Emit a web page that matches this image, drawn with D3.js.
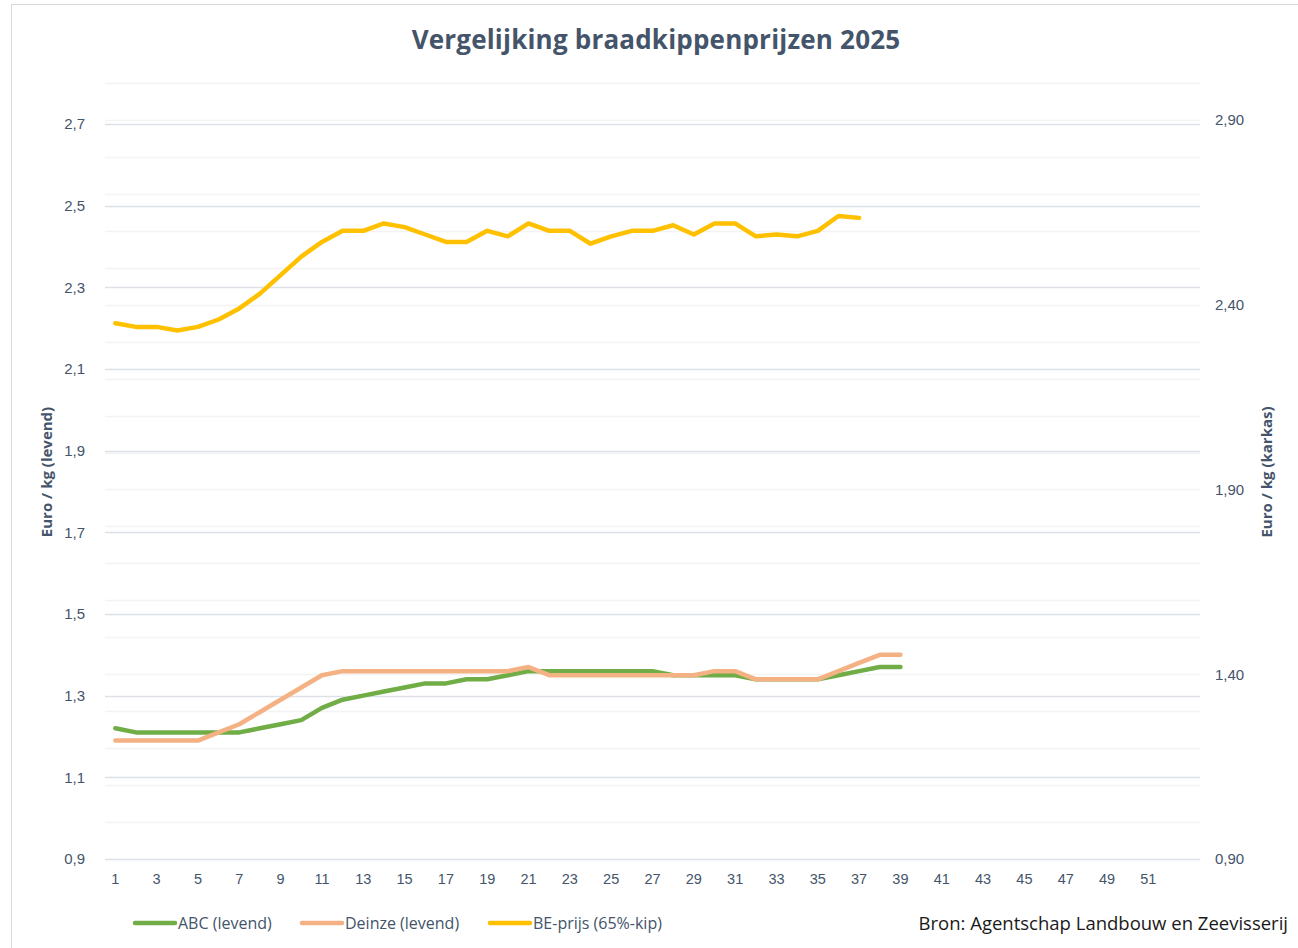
<!DOCTYPE html>
<html>
<head>
<meta charset="utf-8">
<script src="https://cdn.jsdelivr.net/npm/d3@7"></script>
<style>
    body { margin: 0; background: #fff; }
    svg { display: block; font-family: "Open Sans", sans-serif; }
    .tick text { fill: #44546A; font-size: 15px; }
</style>
</head>
<body>
<script>
(function(){

    //week numbers on the category axis (slot 53 stays empty)
    var weeks = d3.range(1, 54);
    var tickWeeks = d3.range(1, 52, 2);

    //live weight prices, left axis (euro / kg levend)
    var abcLevend = [1.22, 1.21, 1.21, 1.21, 1.21, 1.21, 1.21, 1.22, 1.23, 1.24,
        1.27, 1.29, 1.30, 1.31, 1.32, 1.33, 1.33, 1.34, 1.34, 1.35,
        1.36, 1.36, 1.36, 1.36, 1.36, 1.36, 1.36, 1.35, 1.35, 1.35,
        1.35, 1.34, 1.34, 1.34, 1.34, 1.35, 1.36, 1.37, 1.37];
    var deinzeLevend = [1.19, 1.19, 1.19, 1.19, 1.19, 1.21, 1.23, 1.26, 1.29, 1.32,
        1.35, 1.36, 1.36, 1.36, 1.36, 1.36, 1.36, 1.36, 1.36, 1.36,
        1.37, 1.35, 1.35, 1.35, 1.35, 1.35, 1.35, 1.35, 1.35, 1.36,
        1.36, 1.34, 1.34, 1.34, 1.34, 1.36, 1.38, 1.40, 1.40];

    //carcass price, right axis (euro / kg karkas)
    var bePrijs = [2.35, 2.34, 2.34, 2.33, 2.34, 2.36, 2.39, 2.43, 2.48, 2.53,
        2.57, 2.60, 2.60, 2.62, 2.61, 2.59, 2.57, 2.57, 2.60, 2.585,
        2.62, 2.60, 2.60, 2.565, 2.585, 2.60, 2.60, 2.615, 2.59, 2.62,
        2.62, 2.585, 2.59, 2.585, 2.60, 2.64, 2.635];

    var leftTicks = [0.9, 1.1, 1.3, 1.5, 1.7, 1.9, 2.1, 2.3, 2.5, 2.7];
    var rightTicks = [0.9, 1.4, 1.9, 2.4, 2.9];
    var rightMinor = d3.range(9, 31).map(function(d){ return d / 10; });

    var series = [
        {name: "ABC (levend)", values: abcLevend, color: "#70AD47", axis: "left"},
        {name: "Deinze (levend)", values: deinzeLevend, color: "#F4B183", axis: "left"},
        {name: "BE-prijs (65%-kip)", values: bePrijs, color: "#FFC000", axis: "right"}
    ];

    var width = 1298, height = 948;
    var plot = {left: 105, right: 1200, top: 83, bottom: 859};

    var svg = d3.select("body").append("svg")
        .attr("width", width)
        .attr("height", height);

    //chart border
    svg.append("rect")
        .attr("x", 11.5).attr("y", 4.5)
        .attr("width", width).attr("height", height)
        .attr("fill", "none")
        .attr("stroke", "#D9D9D9");

    var x = d3.scaleBand()
        .domain(weeks)
        .range([plot.left, plot.right]);

    var yLeft = d3.scaleLinear()
        .domain([0.9, 2.8])
        .range([plot.bottom, plot.top]);

    var yRight = d3.scaleLinear()
        .domain([0.9, 3.0])
        .range([plot.bottom, plot.top]);

    //light gridlines from the right axis
    svg.append("g").selectAll("line")
        .data(rightMinor)
        .enter().append("line")
        .attr("x1", plot.left).attr("x2", plot.right)
        .attr("y1", function(d){ return Math.round(yRight(d)) + 0.5; })
        .attr("y2", function(d){ return Math.round(yRight(d)) + 0.5; })
        .attr("stroke", "#F3F3F3")
        .attr("stroke-width", 1.5);

    //major gridlines from the left axis
    svg.append("g").selectAll("line")
        .data(leftTicks)
        .enter().append("line")
        .attr("x1", plot.left).attr("x2", plot.right)
        .attr("y1", function(d){ return Math.round(yLeft(d)) + 0.5; })
        .attr("y2", function(d){ return Math.round(yLeft(d)) + 0.5; })
        .attr("stroke", "#DDE1E7")
        .attr("stroke-width", 1.5);

    //left axis labels
    var leftAxis = svg.append("g")
        .attr("transform", "translate(" + (plot.left - 17) + ",0)")
        .call(d3.axisLeft(yLeft).tickValues(leftTicks).tickSize(0)
            .tickFormat(function(d){ return d3.format(".1f")(d).replace(".", ","); }));
    leftAxis.select(".domain").remove();

    //right axis labels
    var rightAxis = svg.append("g")
        .attr("transform", "translate(" + (plot.right + 15) + ",0)")
        .call(d3.axisRight(yRight).tickValues(rightTicks).tickSize(0).tickPadding(0)
            .tickFormat(function(d){ return d3.format(".2f")(d).replace(".", ","); }));
    rightAxis.select(".domain").remove();

    //category axis
    var xAxis = svg.append("g")
        .attr("transform", "translate(0," + plot.bottom + ")")
        .call(d3.axisBottom(x).tickValues(tickWeeks).tickSize(0).tickPadding(15));
    xAxis.select(".domain").remove();
    xAxis.selectAll(".tick text").style("font-size", "14.5px");

    //lines
    series.forEach(function(s){
        var yScale = s.axis == "left" ? yLeft : yRight;
        var line = d3.line()
            .x(function(d, i){ return x(weeks[i]) + x.bandwidth() / 2; })
            .y(function(d){ return yScale(d); });
        svg.append("path")
            .datum(s.values)
            .attr("d", line)
            .attr("fill", "none")
            .attr("stroke", s.color)
            .attr("stroke-width", 4.5)
            .attr("stroke-linejoin", "round")
            .attr("stroke-linecap", "round");
    });

    //title
    svg.append("text")
        .attr("x", 656)
        .attr("y", 49)
        .attr("text-anchor", "middle")
        .attr("fill", "#44546A")
        .style("font-size", "26px")
        .style("font-weight", "bold")
        .style("letter-spacing", "0.2px")
        .text("Vergelijking braadkippenprijzen 2025");

    //axis titles
    svg.append("text")
        .attr("transform", "translate(52,472) rotate(-90)")
        .attr("text-anchor", "middle")
        .attr("fill", "#44546A")
        .style("font-size", "15px")
        .style("font-weight", "bold")
        .text("Euro / kg (levend)");

    svg.append("text")
        .attr("transform", "translate(1272,472) rotate(-90)")
        .attr("text-anchor", "middle")
        .attr("fill", "#44546A")
        .style("font-size", "15px")
        .style("font-weight", "bold")
        .text("Euro / kg (karkas)");

    //legend
    var legendX = [133, 300, 488];
    var legend = svg.append("g").selectAll("g")
        .data(series)
        .enter().append("g")
        .attr("transform", function(d, i){ return "translate(" + legendX[i] + ",923)"; });
    legend.append("line")
        .attr("x1", 2).attr("x2", 42)
        .attr("stroke", function(d){ return d.color; })
        .attr("stroke-width", 4.5)
        .attr("stroke-linecap", "round");
    legend.append("text")
        .attr("x", 45)
        .attr("dy", "0.35em")
        .attr("fill", "#44546A")
        .style("font-size", "16px")
        .text(function(d){ return d.name; });

    //source
    svg.append("text")
        .attr("x", 1288)
        .attr("y", 930)
        .attr("text-anchor", "end")
        .attr("fill", "#1a1a1a")
        .style("font-size", "18.5px")
        .text("Bron: Agentschap Landbouw en Zeevisserij");

})();
</script>
</body>
</html>
